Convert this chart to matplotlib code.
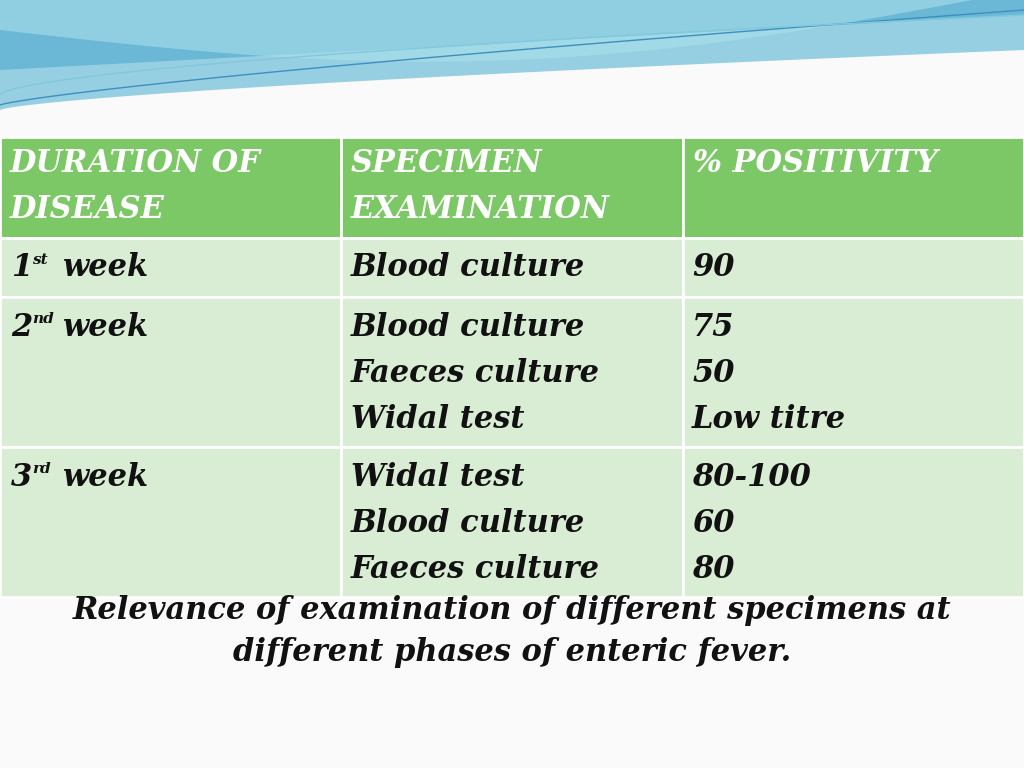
import matplotlib
matplotlib.use("Agg")
import matplotlib.pyplot as plt
import numpy as np
from matplotlib.patches import Rectangle

headers = [["DURATION OF", "DISEASE"], ["SPECIMEN", "EXAMINATION"], ["% POSITIVITY"]]
weeks = [("1", "st"), ("2", "nd"), ("3", "rd")]
specimens = [["Blood culture"], ["Blood culture", "Faeces culture", "Widal test"],
             ["Widal test", "Blood culture", "Faeces culture"]]
positivity = [["90"], ["75", "50", "Low titre"], ["80-100", "60", "80"]]
caption = ["Relevance of examination of different specimens at",
           "different phases of enteric fever."]

fig = plt.figure(figsize=(10.24, 7.68), dpi=100)
ax = fig.add_axes([0, 0, 1, 1])
ax.set_xlim(0, 1024); ax.set_ylim(768, 0); ax.axis("off")
fig.patch.set_facecolor("#fafafa")

# decorative waves
x = np.linspace(0, 1024, 300)
ax.fill_between(x, 0, 110 - 60 * (x / 1024) ** 0.7, color="#8ccbe0", alpha=0.9, lw=0)
ax.fill_between(x, 0, 70 - 55 * (x / 1024), color="#5fb3d4", alpha=0.8, lw=0)
ax.fill_between(x, 0, 30 + 50 * np.sin(np.pi * x / 1024) - 40 * (x / 1024), color="#a8e0ea", alpha=0.6, lw=0)
ax.plot(x, 105 - 95 * (x / 1024) ** 0.8, color="#3d8fc0", lw=1)
ax.plot(x, 95 - 80 * (x / 1024) ** 0.6, color="#7fc8de", lw=1)

col_x = [0, 341, 683, 1024]
row_y = [137, 238, 297, 447, 597]
for r in range(4):
    for c in range(3):
        ax.add_patch(Rectangle((col_x[c], row_y[r]), col_x[c + 1] - col_x[c], row_y[r + 1] - row_y[r],
                               facecolor="#7dc866" if r == 0 else "#d9ecd4", edgecolor="white", lw=2))

font = dict(family="DejaVu Serif", fontweight="bold", fontstyle="italic", color="#111111")
fs = 22
lh = 46
for c, lines in enumerate(headers):
    for i, t in enumerate(lines):
        ax.text(col_x[c] + 10, 164 + i * lh, t, fontsize=fs, va="center", **{**font, "color": "white"})

starts = [268, 327, 477]
for r in range(3):
    y0 = starts[r]
    n, sup = weeks[r]
    ax.text(11, y0, n, fontsize=fs, va="center", **font)
    ax.text(32, y0 - 8, sup, fontsize=11, va="center", **font)
    ax.text(62, y0, "week", fontsize=fs, va="center", **font)
    for i, t in enumerate(specimens[r]):
        ax.text(351, y0 + i * lh, t, fontsize=fs, va="center", **font)
    for i, t in enumerate(positivity[r]):
        ax.text(692, y0 + i * lh, t, fontsize=fs, va="center", **font)

for i, t in enumerate(caption):
    ax.text(512, 611 + i * 42, t, fontsize=22, ha="center", va="center", **font)

fig.savefig("out.png", dpi=100, facecolor=fig.get_facecolor())
